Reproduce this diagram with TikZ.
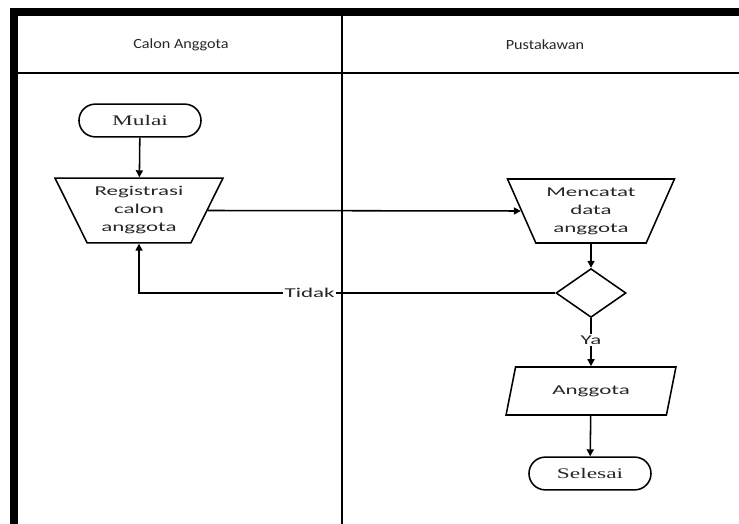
\documentclass[tikz,border=0pt]{standalone}
\usepackage{fontspec}
\usepackage{tikz}
\usetikzlibrary{shapes.geometric,shapes.misc,arrows.meta}
\newfontfamily\lanefont[FakeStretch=1.15]{Carlito}
\newfontfamily\boxfont[FakeStretch=1.7]{Carlito}
\newfontfamily\termfont[FakeStretch=1.6]{Liberation Serif}

\begin{document}
\begin{tikzpicture}[x=0.025cm, y=-0.025cm, line width=1.1pt,
		>={Triangle[length=5pt,width=5pt]},
		lane/.style={font=\lanefont\fontsize{10}{12}\selectfont, text=black!85},
		terminal/.style={draw, rounded rectangle, minimum width=3.05cm, minimum height=0.82cm, inner sep=0pt,
			font=\termfont\fontsize{10.4}{12}\selectfont, text=black!85},
		manual/.style={draw, trapezium, shape border rotate=180, trapezium stretches=true,
			minimum width=4.2cm, minimum height=1.62cm, inner sep=0pt, align=center,
			font=\boxfont\fontsize{9.6}{12.8}\selectfont, text=black!85},
		datanode/.style={draw, trapezium, trapezium left angle=66, trapezium right angle=114, trapezium stretches=true,
			minimum width=4.25cm, minimum height=1.2cm, inner sep=0pt,
			font=\boxfont\fontsize{9.6}{12.8}\selectfont, text=black!85},
		decision/.style={draw, diamond, minimum width=1.75cm, minimum height=1.22cm, inner sep=0pt},
		edgelabel/.style={fill=white, inner sep=1pt, font=\boxfont\fontsize{9.6}{12}\selectfont, text=black!85}]
				      \useasboundingbox (0,0) rectangle (739,524);
				      \fill (10,8) rectangle (739,16.5);
				      \fill (10,8) rectangle (18,524);
				      \draw[line width=0.9pt] (18,73) -- (739,73);
				      \draw (342,16) -- (342,524);
				      \node[lane] (calon) at (181,45) {Calon Anggota};
				      \node[lane] (pustakawan) at (545,45) {Pustakawan};
				      \node[terminal] (mulai) at (140,120.5) {Mulai};
				      \node[manual] (registrasi) at (139,210.5) {Registrasi\\calon\\anggota};
				      \node[manual, trapezium angle=64, minimum width=4.18cm, minimum height=1.6cm] (mencatat) at (591,211) {Mencatat\\data\\anggota};
				      \node[decision] (cek) at (591,293) {};
				      \node[datanode] (anggota) at (591,391) {Anggota};
				      \node[terminal] (selesai) at (590,473.5) {Selesai};
				      \draw[->] (mulai) -- (registrasi);
				      \draw[->] (registrasi.east) -- (mencatat.west);
				      \draw[->] (mencatat) -- (cek);
				      \draw[->] (cek.west) -- node[pos=0.59, edgelabel] {Tidak} (cek.west -| registrasi.south) -- (registrasi.south);
				      \draw[->] (cek.south) -- node[pos=0.46, edgelabel] {Ya} (anggota.north);
				      \draw[->] (anggota) -- (selesai);
			      \end{tikzpicture}
\end{document}
